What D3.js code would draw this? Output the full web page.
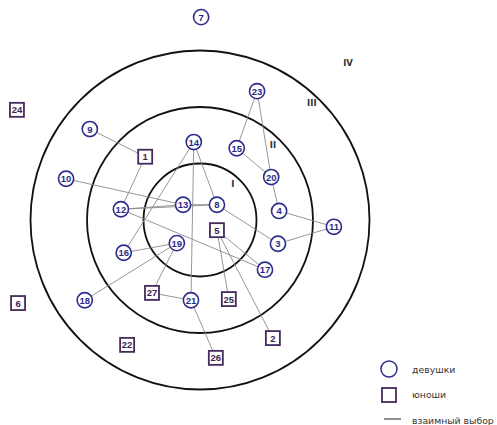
<!DOCTYPE html>
<html>
<head>
<meta charset="utf-8">
<script src="https://cdn.jsdelivr.net/npm/d3@7"></script>
<style>
  html, body { margin: 0; padding: 0; background: #fff; }
  svg { display: block; }
</style>
</head>
<body>
<div id="chart"></div>
<script>
const width = 497;
const height = 425;

// positions in ring units (1 = radius of ring I), y up, origin at centre
const ids   = [7, 24, 9, 1, 14, 10, 12, 13, 8, 23, 15, 20, 4, 11, 3, 5, 19, 16, 17, 18, 27, 21, 25, 6, 22, 2, 26];
const kinds = ['g','b','g','b','g','g','g','g','g','g','g','g','g','g','g','b','g','g','g','g','b','g','b','b','b','b','b'];
const posX  = [0.02, -3.24, -1.95, -0.97, -0.11, -2.37, -1.40, -0.30, 0.30, 1.01, 0.65, 1.26, 1.40, 2.37, 1.38, 0.30, -0.41, -1.35, 1.15, -2.04, -0.85, -0.16, 0.51, -3.22, -1.29, 1.29, 0.28];
const posY  = [3.59, 1.95, 1.61, 1.12, 1.38, 0.73, 0.19, 0.27, 0.27, 2.28, 1.27, 0.76, 0.16, -0.12, -0.42, -0.18, -0.41, -0.58, -0.88, -1.42, -1.29, -1.42, -1.40, -1.47, -2.21, -2.09, -2.44];

// mutual choices
const links = [[9,1],[1,12],[10,13],[12,13],[12,8],[13,8],[12,17],[14,8],[14,21],[14,16],[8,3],
               [23,15],[23,20],[15,20],[20,4],[4,11],[3,11],[19,16],[19,18],[19,27],[27,21],
               [21,26],[5,25],[5,17],[5,2]];

const rings = [1, 2, 3];
const ringNames = ['I', 'II', 'III', 'IV'];
const ringNameX = [0.58, 1.29, 1.98, 2.62];
const ringNameY = [0.64, 1.33, 2.07, 2.78];

const legendLabels = ['девушки', 'юноши', 'взаимный выбор'];

const cx = 200, cy = 220, unit = 56.5;
const x = d3.scaleLinear().domain([-1, 1]).range([cx - unit, cx + unit]);
const y = d3.scaleLinear().domain([-1, 1]).range([cy + unit, cy - unit]);

const nodes = ids.map((id, i) => ({ id, kind: kinds[i], x: posX[i], y: posY[i] }));
const byId = new Map(nodes.map(d => [d.id, d]));

const svg = d3.select('#chart').append('svg')
  .attr('width', width)
  .attr('height', height);

svg.selectAll('circle.ring')
  .data(rings)
  .enter().append('circle')
  .attr('class', 'ring')
  .attr('cx', x(0))
  .attr('cy', y(0))
  .attr('r', d => x(d) - x(0))
  .attr('fill', 'none')
  .attr('stroke', '#111')
  .attr('stroke-width', 1.8);

svg.selectAll('text.ringname')
  .data(ringNames)
  .enter().append('text')
  .attr('class', 'ringname')
  .attr('x', (d, i) => x(ringNameX[i]))
  .attr('y', (d, i) => y(ringNameY[i]))
  .attr('text-anchor', 'middle')
  .attr('dominant-baseline', 'central')
  .attr('font-family', 'DejaVu Sans, sans-serif')
  .attr('font-weight', 'bold')
  .attr('font-size', 8.5)
  .attr('fill', '#333')
  .text(d => d);

svg.selectAll('line.link')
  .data(links)
  .enter().append('line')
  .attr('class', 'link')
  .attr('x1', d => x(byId.get(d[0]).x))
  .attr('y1', d => y(byId.get(d[0]).y))
  .attr('x2', d => x(byId.get(d[1]).x))
  .attr('y2', d => y(byId.get(d[1]).y))
  .attr('stroke', '#8a8a8a')
  .attr('stroke-width', 0.9);

const node = svg.selectAll('g.node')
  .data(nodes)
  .enter().append('g')
  .attr('class', 'node')
  .attr('transform', d => `translate(${x(d.x)},${y(d.y)})`);

node.filter(d => d.kind === 'g').append('circle')
  .attr('r', 7.6)
  .attr('fill', '#fff')
  .attr('stroke', '#2d2d8c')
  .attr('stroke-width', 1.6);

node.filter(d => d.kind === 'b').append('rect')
  .attr('x', -7).attr('y', -7)
  .attr('width', 14).attr('height', 14)
  .attr('fill', '#fff')
  .attr('stroke', '#452a5c')
  .attr('stroke-width', 1.8);

node.append('text')
  .attr('text-anchor', 'middle')
  .attr('dominant-baseline', 'central')
  .attr('font-family', 'Liberation Sans, Arial, sans-serif')
  .attr('font-weight', 'bold')
  .attr('font-size', 9.5)
  .attr('fill', d => d.kind === 'g' ? '#2b2b86' : '#3c2450')
  .text(d => d.id);

// legend
const legend = svg.append('g').attr('transform', 'translate(389,369)');
legend.append('circle')
  .attr('r', 8)
  .attr('fill', '#fff')
  .attr('stroke', '#2d2d8c')
  .attr('stroke-width', 1.5);
legend.append('rect')
  .attr('x', -7).attr('y', 19)
  .attr('width', 14).attr('height', 14)
  .attr('fill', '#fff')
  .attr('stroke', '#452a5c')
  .attr('stroke-width', 1.8);
legend.append('line')
  .attr('x1', -5).attr('x2', 12)
  .attr('y1', 50).attr('y2', 50)
  .attr('stroke', '#222')
  .attr('stroke-width', 1);
legend.selectAll('text')
  .data(legendLabels)
  .enter().append('text')
  .attr('x', 23)
  .attr('y', (d, i) => i * 25.5)
  .attr('dominant-baseline', 'central')
  .attr('font-family', 'DejaVu Sans, sans-serif')
  .attr('font-size', 9.3)
  .attr('fill', '#333')
  .text(d => d);
</script>
</body>
</html>
